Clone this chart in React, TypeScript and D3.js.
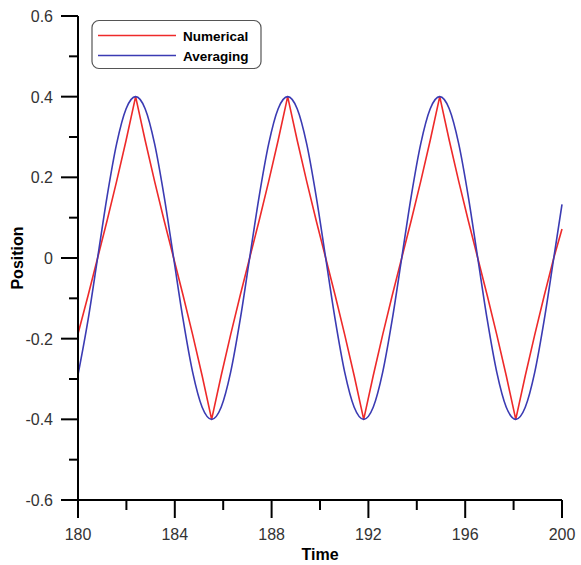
import React from "react";
import * as d3 from "d3";

const times = [
  180, 180.417, 180.81, 181.203, 181.595, 181.988, 182.381, 182.774, 183.166, 183.559,
  183.952, 184.344, 184.737, 185.13, 185.522, 185.915, 186.308, 186.701, 187.093, 187.486,
  187.879, 188.271, 188.664, 189.057, 189.45, 189.842, 190.235, 190.628, 191.02, 191.413,
  191.806, 192.199, 192.591, 192.984, 193.377, 193.769, 194.162, 194.555, 194.948, 195.34,
  195.733, 196.126, 196.518, 196.911, 197.304, 197.697, 198.089, 198.482, 198.875, 199.267,
  199.66, 200,
];

const averaging = [
  -0.29, -0.153, 0, 0.153, 0.283, 0.37, 0.4, 0.37, 0.283, 0.153,
  0, -0.153, -0.283, -0.37, -0.4, -0.37, -0.283, -0.153, 0, 0.153,
  0.283, 0.37, 0.4, 0.37, 0.283, 0.153, 0, -0.153, -0.283, -0.37,
  -0.4, -0.37, -0.283, -0.153, 0, 0.153, 0.283, 0.37, 0.4, 0.37,
  0.283, 0.153, 0, -0.153, -0.283, -0.37, -0.4, -0.37, -0.283, -0.153,
  0, 0.133,
];

const numerical = [
  -0.188, -0.093, 0, 0.093, 0.19, 0.292, 0.4, 0.292, 0.19, 0.093,
  0, -0.093, -0.19, -0.292, -0.4, -0.292, -0.19, -0.093, 0, 0.093,
  0.19, 0.292, 0.4, 0.292, 0.19, 0.093, 0, -0.093, -0.19, -0.292,
  -0.4, -0.292, -0.19, -0.093, 0, 0.093, 0.19, 0.292, 0.4, 0.292,
  0.19, 0.093, 0, -0.093, -0.19, -0.292, -0.4, -0.292, -0.19, -0.093,
  0, 0.072,
];

const xTicks = [180, 184, 188, 192, 196, 200];
const xMinor = [182, 186, 190, 194, 198];
const yTicks = [-0.6, -0.4, -0.2, 0, 0.2, 0.4, 0.6];
const yMinor = [-0.5, -0.3, -0.1, 0.1, 0.3, 0.5];
const yTickLabels = ["-0.6", "-0.4", "-0.2", "0", "0.2", "0.4", "0.6"];

const seriesNames = ["Numerical", "Averaging"];
const seriesColors = ["#ee2a2a", "#3b3bb3"];

export default function App() {
  const W = 581, H = 565;
  const x = d3.scaleLinear().domain([180, 200]).range([78, 562]);
  const y = d3.scaleLinear().domain([-0.6, 0.6]).range([500, 16]);

  const lineGen = (vals: number[], curve: any) =>
    d3
      .line<number>()
      .x((_, i) => x(times[i]))
      .y((d) => y(d))
      .curve(curve)(vals) as string;

  const font = "'Liberation Sans', Arial, sans-serif";

  return (
    <svg
      width={W}
      height={H}
      style={{ position: "absolute", left: 0, top: 0, background: "#fff" }}
      fontFamily={font}
    >
      <path d={lineGen(numerical, d3.curveLinear)} fill="none" stroke={seriesColors[0]} strokeWidth={1.6} strokeLinejoin="round" />
      <path d={lineGen(averaging, d3.curveMonotoneX)} fill="none" stroke={seriesColors[1]} strokeWidth={1.6} />

      {/* axes */}
      <line x1={x(180)} x2={x(200)} y1={500} y2={500} stroke="#000" strokeWidth={2} />
      <line x1={78} x2={78} y1={y(0.6)} y2={y(-0.6)} stroke="#000" strokeWidth={2} />

      {xTicks.map((t) => (
        <g key={"xt" + t}>
          <line x1={x(t)} x2={x(t)} y1={500} y2={518} stroke="#000" strokeWidth={2} />
          <text x={x(t)} y={540} textAnchor="middle" fontSize={16} fill="#333">
            {t}
          </text>
        </g>
      ))}
      {xMinor.map((t) => (
        <line key={"xm" + t} x1={x(t)} x2={x(t)} y1={500} y2={510} stroke="#000" strokeWidth={2} />
      ))}
      {yTicks.map((t, i) => (
        <g key={"yt" + t}>
          <line x1={61} x2={78} y1={y(t)} y2={y(t)} stroke="#000" strokeWidth={2} />
          <text x={53} y={y(t) + 6} textAnchor="end" fontSize={16} fill="#333">
            {yTickLabels[i]}
          </text>
        </g>
      ))}
      {yMinor.map((t) => (
        <line key={"ym" + t} x1={69} x2={78} y1={y(t)} y2={y(t)} stroke="#000" strokeWidth={2} />
      ))}

      <text x={320} y={560} textAnchor="middle" fontSize={16} fontWeight="bold" fill="#000">
        Time
      </text>
      <text
        transform={`translate(23, 258) rotate(-90)`}
        textAnchor="middle"
        fontSize={16}
        fontWeight="bold"
        fill="#000"
      >
        Position
      </text>

      {/* legend */}
      <rect x={92} y={20.5} width={169} height={48} rx={7} ry={7} fill="#fff" stroke="#555" strokeWidth={1.2} />
      {seriesNames.map((n, i) => (
        <g key={n}>
          <line x1={98} x2={176} y1={35.5 + i * 20} y2={35.5 + i * 20} stroke={seriesColors[i]} strokeWidth={1.6} />
          <text x={183} y={40.5 + i * 20} fontSize={13.5} fontWeight="bold" fill="#000">
            {n}
          </text>
        </g>
      ))}
    </svg>
  );
}
